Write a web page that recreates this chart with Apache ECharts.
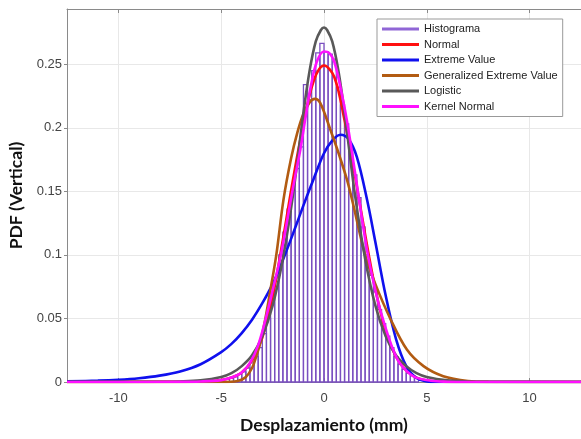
<!DOCTYPE html>
<html>
<head>
<meta charset="utf-8">
<script src="https://cdn.jsdelivr.net/npm/echarts@6/dist/echarts.min.js"></script>
<style>
html, body { margin: 0; padding: 0; background: #fff; }
#chart { width: 581px; height: 439px; }
</style>
</head>
<body>
<div id="chart"></div>
<script>
// histogram bins (centre, pdf height), bin width 0.2 mm
const binWidth = 0.2;
const histCenters = [-4.5, -4.3, -4.1, -3.9, -3.7, -3.5, -3.3, -3.1, -2.9, -2.7, -2.5, -2.3, -2.1, -1.9, -1.7, -1.5,
  -1.3, -1.1, -0.9, -0.7, -0.5, -0.3, -0.1, 0.1, 0.3, 0.5, 0.7, 0.9, 1.1, 1.3, 1.5, 1.7, 1.9, 2.1, 2.3, 2.5,
  2.7, 2.9, 3.1, 3.3, 3.5, 3.7, 3.9, 4.1, 4.3, 4.5];
const histValues = [0.003, 0.004, 0.006, 0.008, 0.011, 0.015, 0.020, 0.027, 0.038, 0.050, 0.066, 0.082, 0.100, 0.118, 0.136, 0.151,
  0.168, 0.185, 0.234, 0.222, 0.245, 0.259, 0.2665, 0.260, 0.258, 0.254, 0.232, 0.218, 0.203, 0.184, 0.163, 0.145, 0.122, 0.100, 0.084, 0.071,
  0.057, 0.046, 0.036, 0.027, 0.020, 0.014, 0.010, 0.007, 0.005, 0.003];

// fitted curves, [x, pdf]
const normalPts = [[-12.5, 0], [-6, 0.0002], [-5, 0.0015], [-4.5, 0.0035], [-4, 0.0075], [-3.5, 0.017], [-3, 0.035],
  [-2.5, 0.067], [-2, 0.112], [-1.5, 0.160], [-1, 0.203], [-0.5, 0.237], [0, 0.249], [0.5, 0.240], [1, 0.206],
  [1.5, 0.163], [2, 0.116], [2.5, 0.073], [3, 0.040], [3.5, 0.020], [4, 0.009], [4.5, 0.0035], [5, 0.0012], [6, 0.0001], [12.5, 0]];
const extremePts = [[-12.5, 0.0005], [-11, 0.0011], [-10, 0.0018], [-9, 0.003], [-8, 0.005], [-7, 0.0083], [-6, 0.014],
  [-5, 0.0235], [-4.5, 0.030], [-4, 0.0385], [-3.5, 0.049], [-3, 0.062], [-2.5, 0.077], [-2, 0.096], [-1.5, 0.117],
  [-1, 0.139], [-0.5, 0.160], [0, 0.180], [0.4, 0.190], [0.8, 0.1946], [1.2, 0.191], [1.6, 0.177], [2.1, 0.143],
  [2.5, 0.110], [3, 0.068], [3.5, 0.034], [4, 0.0125], [4.5, 0.0031], [5, 0.0005], [5.5, 0], [12.5, 0]];
const gevPts = [[-12.5, 0], [-5, 0], [-4.2, 0.0008], [-3.8, 0.004], [-3.5, 0.011], [-3.3, 0.02], [-3.1, 0.031],
  [-2.85, 0.05], [-2.6, 0.073], [-2.32, 0.10], [-1.97, 0.1435], [-1.6, 0.176], [-1.3, 0.196], [-1, 0.211],
  [-0.7, 0.220], [-0.45, 0.2228], [-0.18, 0.2195], [0.31, 0.1985], [0.71, 0.180], [1.12, 0.159], [1.4, 0.141],
  [2, 0.10], [2.5, 0.077], [3.22, 0.05], [4.03, 0.0255], [4.84, 0.0125], [5.8, 0.0046], [7, 0.0008], [8, 0.0001], [12.5, 0]];
const logisticPts = [[-12.5, 0], [-8, 0.00015], [-7, 0.0004], [-6, 0.0013], [-5, 0.004], [-4.5, 0.007], [-4, 0.0125],
  [-3.5, 0.021], [-3, 0.036], [-2.5, 0.060], [-2, 0.097], [-1.5, 0.148], [-1, 0.212], [-0.7, 0.245], [-0.4, 0.268],
  [-0.15, 0.277], [0, 0.279], [0.15, 0.277], [0.4, 0.268], [0.7, 0.245], [1, 0.212], [1.5, 0.148], [2, 0.097],
  [2.5, 0.060], [3, 0.036], [3.5, 0.021], [4, 0.0125], [4.5, 0.007], [5, 0.004], [6, 0.0013], [7, 0.0004], [8, 0.00015], [12.5, 0]];
const kernelPts = [[-12.5, 0], [-7, 0.0001], [-6, 0.0004], [-5, 0.0015], [-4.5, 0.0035], [-4, 0.0075], [-3.6, 0.015],
  [-3.2, 0.029], [-2.8, 0.052], [-2.5, 0.072], [-2.1, 0.10], [-1.65, 0.14], [-1.4, 0.162], [-1.15, 0.183], [-0.9, 0.208],
  [-0.65, 0.232], [-0.35, 0.252], [0, 0.260], [0.25, 0.259], [0.5, 0.252], [0.8, 0.232], [1.1, 0.207], [1.35, 0.182],
  [1.6, 0.155], [2.1, 0.103], [2.5, 0.072], [2.8, 0.053], [3.3, 0.028], [3.7, 0.0145], [4.35, 0.0045], [5.2, 0.001],
  [6, 0.0002], [7, 0], [12.5, 0]];

const chart = echarts.init(document.getElementById('chart'));

const histData = histCenters.map((c, i) => [c, histValues[i]]);

function lineSeries(name, pts, color) {
  return {
    name: name,
    type: 'line',
    data: pts,
    smooth: 0.35,
    showSymbol: false,
    symbol: 'none',
    color: color,
    lineStyle: { color: color, width: 2.6 },
    silent: true,
    animation: false
  };
}

const option = {
  animation: false,
  grid: { left: 67, right: 0, top: 9, bottom: 57, containLabel: false, outerBoundsMode: 'none' },
  legend: {
    left: 377,
    top: 19,
    orient: 'vertical',
    icon: 'rect',
    itemWidth: 37,
    itemHeight: 3,
    itemGap: 1.5,
    padding: [3, 5, 3, 5],
    backgroundColor: '#fff',
    borderColor: '#999',
    borderWidth: 1,
    textStyle: { fontFamily: 'Liberation Sans', fontSize: 11, color: '#222', lineHeight: 14 },
    data: ['Histograma', 'Normal', 'Extreme Value', 'Generalized Extreme Value', 'Logistic', 'Kernel Normal']
  },
  xAxis: [{
    type: 'value',
    min: -12.5,
    max: 12.5,
    splitNumber: 5,
    name: 'Desplazamiento (mm)',
    nameLocation: 'middle',
    nameGap: 34,
    nameTextStyle: { fontFamily: 'Lato', fontWeight: 'bold', fontSize: 17.5, color: '#111' },
    axisLine: { onZero: false, lineStyle: { color: '#8a8a8a', width: 1 } },
    axisTick: { inside: true, length: 4, lineStyle: { color: '#8a8a8a' } },
    axisLabel: { showMinLabel: false, showMaxLabel: false, margin: 10, fontFamily: 'Liberation Sans', fontSize: 13, color: '#444' },
    splitLine: { show: true, lineStyle: { color: '#e8e8e8', width: 1 } }
  }, {
    type: 'value',
    position: 'top',
    min: -12.5,
    max: 12.5,
    splitNumber: 5,
    axisLine: { onZero: false, lineStyle: { color: '#8a8a8a', width: 1 } },
    axisTick: { inside: true, length: 4, lineStyle: { color: '#8a8a8a' } },
    axisLabel: { show: false },
    splitLine: { show: false }
  }],
  yAxis: {
    type: 'value',
    min: 0,
    max: 0.2935,
    interval: 0.05,
    name: 'PDF (Vertical)',
    nameLocation: 'middle',
    nameGap: 41,
    nameTextStyle: { fontFamily: 'Lato', fontWeight: 'bold', fontSize: 17.5, color: '#111' },
    axisLine: { show: true, onZero: false, lineStyle: { color: '#8a8a8a', width: 1 } },
    axisTick: { show: true, length: 3, lineStyle: { color: '#8a8a8a' } },
    axisLabel: {
      showMaxLabel: false, margin: 5, fontFamily: 'Liberation Sans', fontSize: 13, color: '#444',
      formatter: v => String(+v.toFixed(2))
    },
    splitLine: { show: true, lineStyle: { color: '#e8e8e8', width: 1 } }
  },
  series: [
    {
      name: 'Histograma',
      type: 'custom',
      data: histData,
      color: '#9066d6',
      itemStyle: { color: '#9066d6' },
      silent: true,
      renderItem: function (params, api) {
        const c = api.value(0);
        const v = api.value(1);
        const p0 = api.coord([c - binWidth / 2, v]);
        const p1 = api.coord([c + binWidth / 2, 0]);
        return {
          type: 'rect',
          shape: { x: p0[0], y: p0[1], width: p1[0] - p0[0], height: p1[1] - p0[1] },
          style: { fill: 'rgba(255,255,255,0)', stroke: '#7a4fc0', lineWidth: 1.3 }
        };
      }
    },
    lineSeries('Normal', normalPts, '#ff1010'),
    lineSeries('Extreme Value', extremePts, '#1010ee'),
    lineSeries('Generalized Extreme Value', gevPts, '#b25b12'),
    lineSeries('Logistic', logisticPts, '#595959'),
    lineSeries('Kernel Normal', kernelPts, '#ff10ff')
  ]
};

chart.setOption(option);
</script>
</body>
</html>
